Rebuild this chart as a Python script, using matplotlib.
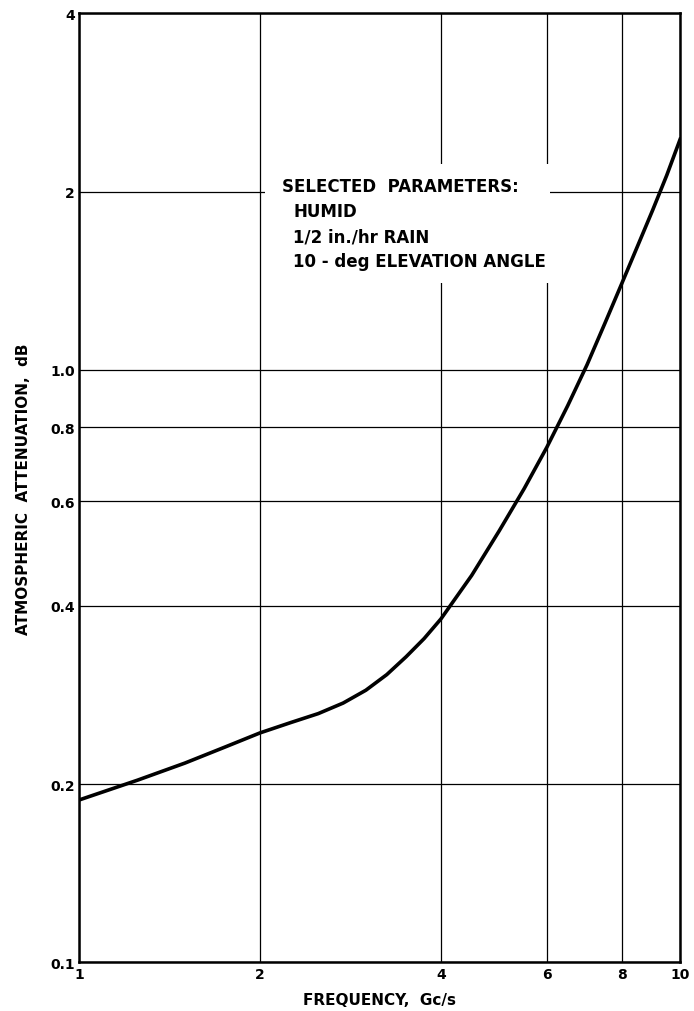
import matplotlib.pyplot as plt
from matplotlib.patches import Rectangle
from matplotlib.ticker import FixedLocator, NullLocator

# values
freq = [1.0, 1.25, 1.5, 1.75, 2.0, 2.25, 2.5, 2.75, 3.0, 3.25, 3.5, 3.75, 4.0,
        4.5, 5.0, 5.5, 6.0, 6.5, 7.0, 7.5, 8.0, 8.5, 9.0, 9.5, 10.0]
atten = [0.188, 0.203, 0.217, 0.231, 0.244, 0.254, 0.263, 0.274, 0.288, 0.306, 0.328, 0.352, 0.380,
         0.450, 0.535, 0.630, 0.740, 0.870, 1.02, 1.20, 1.40, 1.62, 1.86, 2.13, 2.45]

x_ticks = [1, 2, 4, 6, 8, 10]
x_labels = ["1", "2", "4", "6", "8", "10"]
y_ticks = [0.1, 0.2, 0.4, 0.6, 0.8, 1.0, 2, 4]
y_labels = ["0.1", "0.2", "0.4", "0.6", "0.8", "1.0", "2", "4"]

notes = ["SELECTED  PARAMETERS:", "HUMID", "1/2 in./hr RAIN", "10 - deg ELEVATION ANGLE"]

fig = plt.figure(figsize=(6.94, 10.12), dpi=100)
ax = fig.add_axes([0.114, 0.048, 0.866, 0.938])

ax.set_xscale("log")
ax.set_yscale("log")
ax.set_xlim(1, 10)
ax.set_ylim(0.1, 4)

ax.xaxis.set_major_locator(FixedLocator(x_ticks))
ax.xaxis.set_minor_locator(NullLocator())
ax.yaxis.set_major_locator(FixedLocator(y_ticks))
ax.yaxis.set_minor_locator(NullLocator())
ax.set_xticklabels(x_labels, fontsize=10, fontweight="bold")
ax.set_yticklabels(y_labels, fontsize=10, fontweight="bold")
ax.tick_params(length=0, pad=3)

ax.grid(True, color="black", linewidth=0.9)
for s in ax.spines.values():
    s.set_linewidth(1.8)

ax.plot(freq, atten, color="black", linewidth=2.6)

# white patch where the grid is broken by the note
ax.add_patch(Rectangle((0.309, 0.716), 0.474, 0.125, transform=ax.transAxes,
                       facecolor="white", edgecolor="none", zorder=2))
ax.text(0.338, 0.818, notes[0], transform=ax.transAxes, fontsize=12,
        fontweight="bold", va="center", zorder=3)
for i, line in enumerate(notes[1:]):
    ax.text(0.356, 0.818 - 0.0265 * (i + 1), line, transform=ax.transAxes,
            fontsize=12, fontweight="bold", va="center", zorder=3)

ax.set_xlabel("FREQUENCY,  Gc/s", fontsize=11, fontweight="bold", labelpad=8)
ax.set_ylabel("ATMOSPHERIC  ATTENUATION,  dB", fontsize=11, fontweight="bold", labelpad=14)

fig.savefig("out.png", dpi=100)
